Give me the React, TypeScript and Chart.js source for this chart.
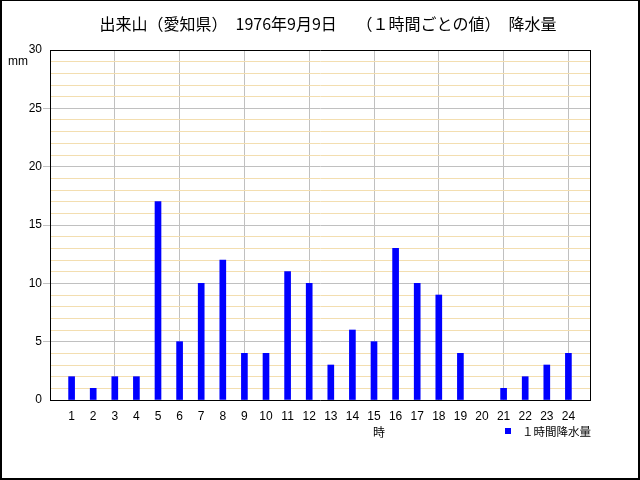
import { useEffect, useRef } from 'react';
import { Chart, registerables } from 'chart.js';

Chart.register(...registerables);

const hours = [1, 2, 3, 4, 5, 6, 7, 8, 9, 10, 11, 12, 13, 14, 15, 16, 17, 18, 19, 20, 21, 22, 23, 24];
const rainfall = [2, 1, 2, 2, 17, 5, 10, 12, 4, 4, 11, 10, 3, 6, 5, 13, 10, 9, 4, 0, 1, 2, 3, 4];
const titleText = '出来山（愛知県）　1976年9月9日　 （１時間ごとの値）　降水量';
const seriesLabel = '１時間降水量';
const xAxisTitle = '時';
const yUnit = 'mm';

const FONT = '"Liberation Sans", "Noto Sans CJK JP", sans-serif';
const JFONT = '"Noto Sans CJK JP", "Liberation Sans", sans-serif';

const decorPlugin = {
  id: 'decor',
  beforeDraw(chart: any) {
    const ctx = chart.ctx;
    ctx.save();
    ctx.fillStyle = '#ffffff';
    ctx.fillRect(0, 0, chart.width, chart.height);
    ctx.restore();
  },
  afterDraw(chart: any) {
    const ctx = chart.ctx;
    ctx.save();
    ctx.fillStyle = '#000000';
    ctx.textBaseline = 'middle';
    ctx.textAlign = 'center';
    ctx.font = '16px ' + JFONT;
    ctx.fillText(titleText, 328, 24);
    ctx.font = '12px ' + FONT;
    ctx.textAlign = 'left';
    ctx.fillText(yUnit, 8, 62);
    ctx.font = '12px ' + JFONT;
    ctx.textAlign = 'center';
    ctx.fillText(xAxisTitle, 379, 432);
    ctx.fillStyle = '#0000ff';
    ctx.fillRect(505, 428, 6, 6);
    ctx.fillStyle = '#000000';
    ctx.textAlign = 'left';
    ctx.font = '11.5px ' + JFONT;
    ctx.fillText(seriesLabel, 522, 432);
    // outer frame
    ctx.fillRect(0, 0, 640, 1);
    ctx.fillRect(0, 0, 2, 480);
    ctx.fillRect(638, 0, 2, 480);
    ctx.fillRect(0, 478, 640, 2);
    ctx.restore();
  },
};

export default function App() {
  const ref = useRef<HTMLCanvasElement>(null);
  useEffect(() => {
    if (!ref.current) return;
    const chart = new Chart(ref.current, {
      type: 'bar',
      data: {
        datasets: [
          {
            label: seriesLabel,
            data: hours.map((h, i) => ({ x: h, y: rainfall[i] })),
            backgroundColor: (c: any) => (c.raw && c.raw.y === 0 ? 'rgba(0,0,0,0)' : '#0000ff'),
            borderWidth: 0,
            barThickness: 6,
          },
        ],
      },
      options: {
        responsive: false,
        animation: false,
        devicePixelRatio: 1,
        layout: { padding: { top: 50, right: 50, left: 0, bottom: 0 } },
        plugins: {
          legend: { display: false },
          title: { display: false },
          tooltip: { enabled: false },
        },
        scales: {
          x: {
            type: 'linear',
            min: 0,
            max: 25,
            offset: false,
            z: -1,
            afterFit(scale: any) {
              scale.height = 80;
            },
            ticks: {
              stepSize: 1,
              autoSkip: false,
              maxRotation: 0,
              padding: 9,
              color: '#000000',
              font: { size: 12, family: FONT },
              callback: (v: any) => (v >= 1 && v <= 24 ? String(v) : ''),
            },
            grid: {
              offset: false,
              drawTicks: false,
              color: (c: any) => {
                const v = c.tick ? c.tick.value : 0;
                if (v === 25) return '#000000';
                if (v % 3 === 0) return '#c0c0c0';
                return 'rgba(0,0,0,0)';
              },
            },
            border: { display: true, color: '#000000', width: 1 },
          },
          y: {
            type: 'linear',
            min: 0,
            max: 30,
            z: -2,
            afterFit(scale: any) {
              scale.width = 50;
            },
            ticks: {
              stepSize: 1,
              autoSkip: false,
              padding: 1,
              color: '#000000',
              font: { size: 12, family: FONT },
              callback: (v: any) => (v % 5 === 0 ? String(v) : ''),
            },
            grid: {
              tickLength: 7,
              color: (c: any) => {
                const v = c.tick ? c.tick.value : 0;
                if (v === 30) return '#000000';
                if (v % 5 === 0) return '#c0c0c0';
                return '#f3deb0';
              },
              tickColor: (c: any) => {
                const v = c.tick ? c.tick.value : 0;
                if (v % 5 === 0 && v !== 0 && v !== 30) return '#c0c0c0';
                return 'rgba(0,0,0,0)';
              },
            },
            border: { display: true, color: '#000000', width: 1 },
          },
        },
      },
      plugins: [decorPlugin],
    } as any);
    return () => chart.destroy();
  }, []);
  return (
    <div style={{ position: 'fixed', left: 0, top: 0, width: 640, height: 480, background: '#fff' }}>
      <canvas ref={ref} width={640} height={480} style={{ display: 'block', width: 640, height: 480 }} />
    </div>
  );
}
